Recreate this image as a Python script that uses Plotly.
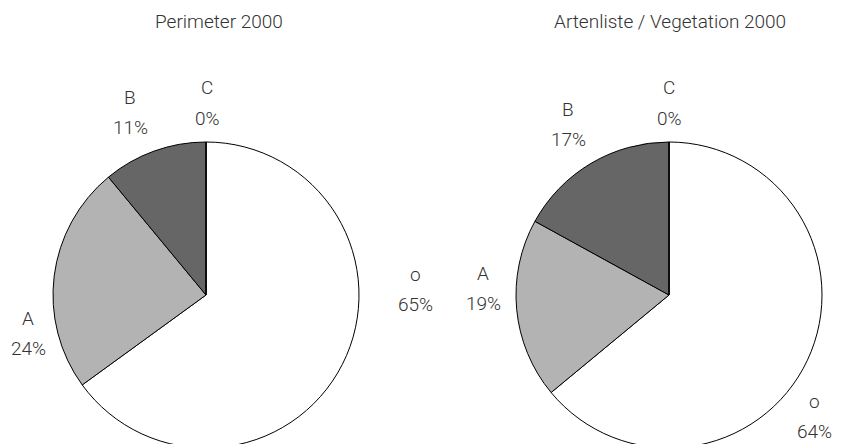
import plotly.graph_objects as go

labels = ["o", "A", "B", "C"]
perimeter_2000 = [65, 24, 11, 0]
vegetation_2000 = [64, 19, 17, 0]
titles = ["Perimeter 2000", "Artenliste / Vegetation 2000"]
slice_colors = ["#ffffff", "#b3b3b3", "#666666", "#333333"]

# Beschriftungspositionen (Pixel, wie im Original von Hand gesetzt)
label_pos = [
    [(415, 289), (28, 333), (130, 112), (207, 103)],
    [(814, 416), (483, 288), (568, 124), (669, 103)],
]
title_x = [219, 670]
pie_centers = [(206, 295), (669, 295)]
pie_r = 153

W, H = 844, 444
OFF = 8  # Seitenrand des Browsers (body margin)
font = dict(family="Roboto, Arial", size=19, color="#333333", weight=300)


def px_x(x):
    return (x - OFF) / W


def px_y(y):
    return 1 - (y - OFF) / H


fig = go.Figure()

for vals, (cx, cy), pos in zip([perimeter_2000, vegetation_2000], pie_centers, label_pos):
    dom = dict(x=[px_x(cx - pie_r), px_x(cx + pie_r)],
               y=[px_y(cy + pie_r), px_y(cy - pie_r)])
    fig.add_trace(go.Pie(
        labels=labels,
        values=vals,
        sort=False,
        direction="clockwise",
        rotation=0,
        domain=dom,
        marker=dict(colors=slice_colors, line=dict(color="#000000", width=1)),
        textinfo="none",
        showlegend=False,
        hoverinfo="label+percent",
    ))
    # Beschriftung: Kategorie und Prozent je Segment
    total = sum(vals)
    for lab, v, (lx, ly) in zip(labels, vals, pos):
        pct = round(100 * v / total)
        for txt, dy in [(lab, -15), (f"{pct}%", 15)]:
            fig.add_annotation(
                x=px_x(lx), y=px_y(ly + dy), xref="paper", yref="paper",
                xanchor="center", yanchor="middle",
                text=txt, showarrow=False, font=font,
            )

for title, tx in zip(titles, title_x):
    fig.add_annotation(
        x=px_x(tx), y=1.0, xref="paper", yref="paper",
        xanchor="center", yanchor="top",
        text=title, showarrow=False, font=font,
    )

fig.update_layout(
    width=W, height=H,
    margin=dict(l=0, r=0, t=0, b=0),
    paper_bgcolor="white",
    plot_bgcolor="white",
)

fig.write_html("out.html")
